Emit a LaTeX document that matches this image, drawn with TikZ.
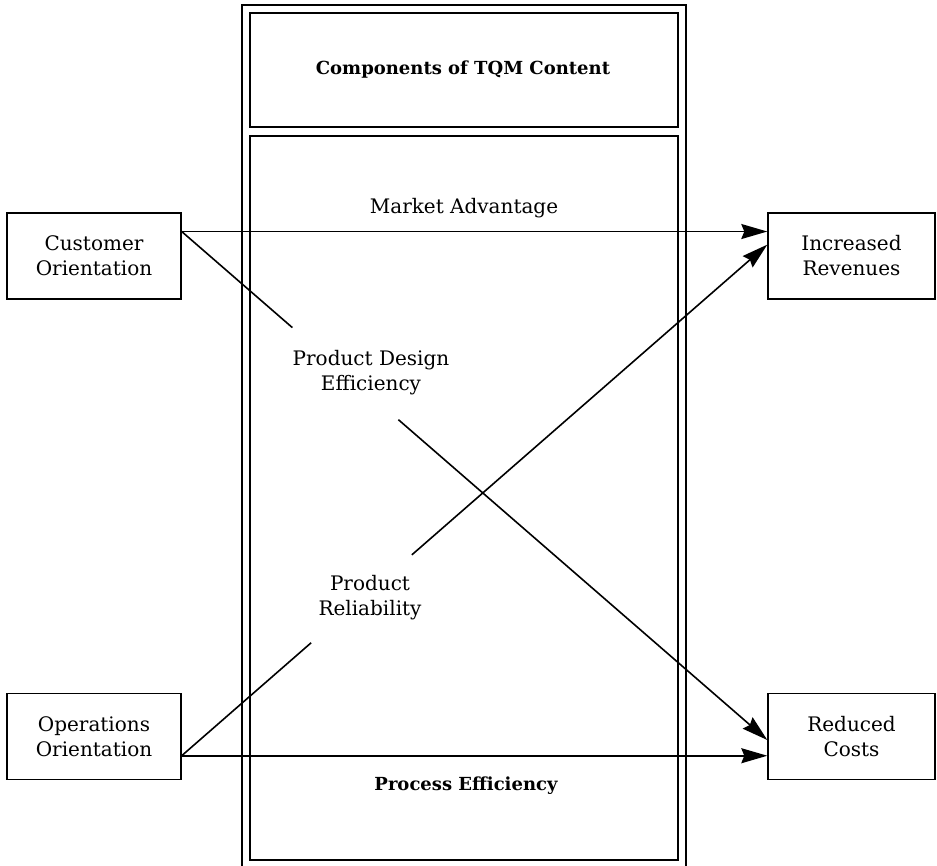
\documentclass[tikz,border=0pt]{standalone}
\usepackage{fontspec}
\setmainfont{DejaVu Serif}
\usetikzlibrary{arrows.meta,calc}
\begin{document}
\begin{tikzpicture}[x=1pt,y=-1pt,
  every node/.style={font=\fontsize{20}{25}\selectfont, inner sep=0pt},
  sidebox/.style={draw, line width=1.4pt, minimum width=174pt, minimum height=86pt, align=center},
  frame/.style={line width=1.4pt},
  conn/.style={line width=1.6pt},
  arr/.style={conn, -{Stealth[length=26pt,width=15pt,inset=3pt]}},
  lbl/.style={align=center},
  boldlbl/.style={align=center, font=\fontsize{18}{23}\selectfont\bfseries}]
\useasboundingbox (0,0) rectangle (937,866);
% central frame
\draw[frame] (242,5) rectangle (686,870);
\draw[frame] (250,13) rectangle (678,127);
\draw[frame] (250,136) rectangle (678,860);
% side boxes
\node[sidebox] (cust) at (94,256) {Customer\\Orientation};
\node[sidebox] (ops) at (94,736.5) {Operations\\Orientation};
\node[sidebox, minimum width=167pt] (rev) at (851.5,256) {Increased\\Revenues};
\node[sidebox, minimum width=167pt] (cost) at (851.5,736.5) {Reduced\\Costs};
% labels
\node[boldlbl] (tqm) at (463,70) {Components of TQM Content};
\node[lbl] (mkt) at (464,208) {Market Advantage};
\node[lbl] (pde) at (371,373) {Product Design\\Efficiency};
\node[lbl] (prel) at (370,598) {Product\\Reliability};
\node[boldlbl] (proc) at (466,786) {Process Efficiency};
% connector end points
\coordinate (cs) at ($(cust.north east)!0.22!(cust.south east)$);
\coordinate (os) at ($(ops.north east)!0.72!(ops.south east)$);
\coordinate (rt1) at ($(rev.north west)!0.22!(rev.south west)$);
\coordinate (rt2) at ($(rev.north west)!0.37!(rev.south west)$);
\coordinate (ct1) at ($(cost.north west)!0.54!(cost.south west)$);
\coordinate (ct2) at ($(cost.north west)!0.72!(cost.south west)$);
\coordinate (g1) at ($(cs)!0.189!(ct1)$);
\coordinate (g2) at ($(cs)!0.37!(ct1)$);
\coordinate (h1) at ($(os)!0.221!(rt2)$);
\coordinate (h2) at ($(os)!0.393!(rt2)$);
% connectors
\draw[arr] (cs) -- (rt1);
\draw[arr] (os) -- (ct2);
\draw[conn] (cs) -- (g1);
\draw[arr] (g2) -- (ct1);
\draw[conn] (os) -- (h1);
\draw[arr] (h2) -- (rt2);
\end{tikzpicture}
\end{document}
